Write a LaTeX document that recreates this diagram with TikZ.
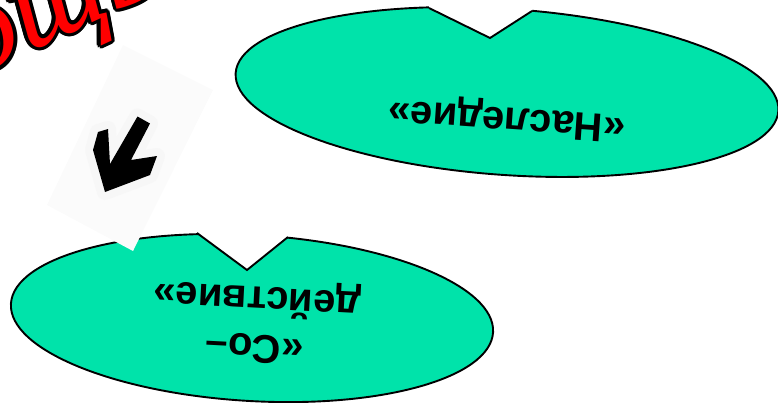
\documentclass[tikz,border=0pt]{standalone}
\usepackage{fontspec}
\usepackage{contour}
\newfontfamily\labelfont{Liberation Sans}
\newfontfamily\artfont{Liberation Serif}
\definecolor{mint}{RGB}{0,227,170}
\contourlength{3.5pt}
\begin{document}
\begin{tikzpicture}[x=1pt, y=1pt,
  blob/.style={fill=mint, draw=black, line width=1.9pt},
  notch/.style={draw=black, line width=1.9pt, line join=miter},
  lbl/.style={font=\labelfont\bfseries\fontsize{40}{48}\selectfont, align=center, inner sep=0pt},
  art/.style={font=\artfont\itshape\fontsize{125}{125}\selectfont, text=red, inner sep=0pt},
  arrowshape/.style={insert path={(137.5,-116.5) -- (150,-123.5) -- (131,-160) -- (157,-156) -- (150,-175)
    -- (105,-192) -- (93,-150) -- (98,-132) -- (108,-129) -- (110,-164) -- cycle}}]
  \useasboundingbox (0,0) rectangle (778,-402);
  \clip (0,0) rectangle (778,-402);
  % word art, mostly off the slide
  \node[art, rotate=25, anchor=base west] (word) at (-235,-175) {\contour{black}{Помощь}};
  % upper bubble
  \draw[blob, rotate around={-4:(507,-92)}] (507,-92) ellipse (272 and 83);
  \fill[white] (429,-8) -- (490,-38) -- (532,-11) -- (532,5) -- (429,5) -- cycle;
  \draw[notch] (429,-8) -- (490,-38) -- (532,-11);
  \node[lbl, rotate=176] (heritage) at (507,-118) {«Наследие»};
  % lower bubble
  \draw[blob, rotate around={-3.4:(252,-318)}] (252,-318) ellipse (241.5 and 83);
  \fill[white] (197,-233) -- (247,-270) -- (288,-237) -- (288,-215) -- (197,-215) -- cycle;
  \draw[notch] (197,-233) -- (247,-270) -- (288,-237);
  \node[lbl, rotate=177] (coaction) at (256,-321) {«Со–\\действие»};
  % picture with the arrow
  \fill[gray!3] (123,-45) -- (213,-90) -- (133,-251) -- (47,-205) -- cycle;
  \path[fill=gray!6, draw=gray!6, line width=16pt, line join=round, arrowshape];
  \path[fill=black, arrowshape];
\end{tikzpicture}
\end{document}
